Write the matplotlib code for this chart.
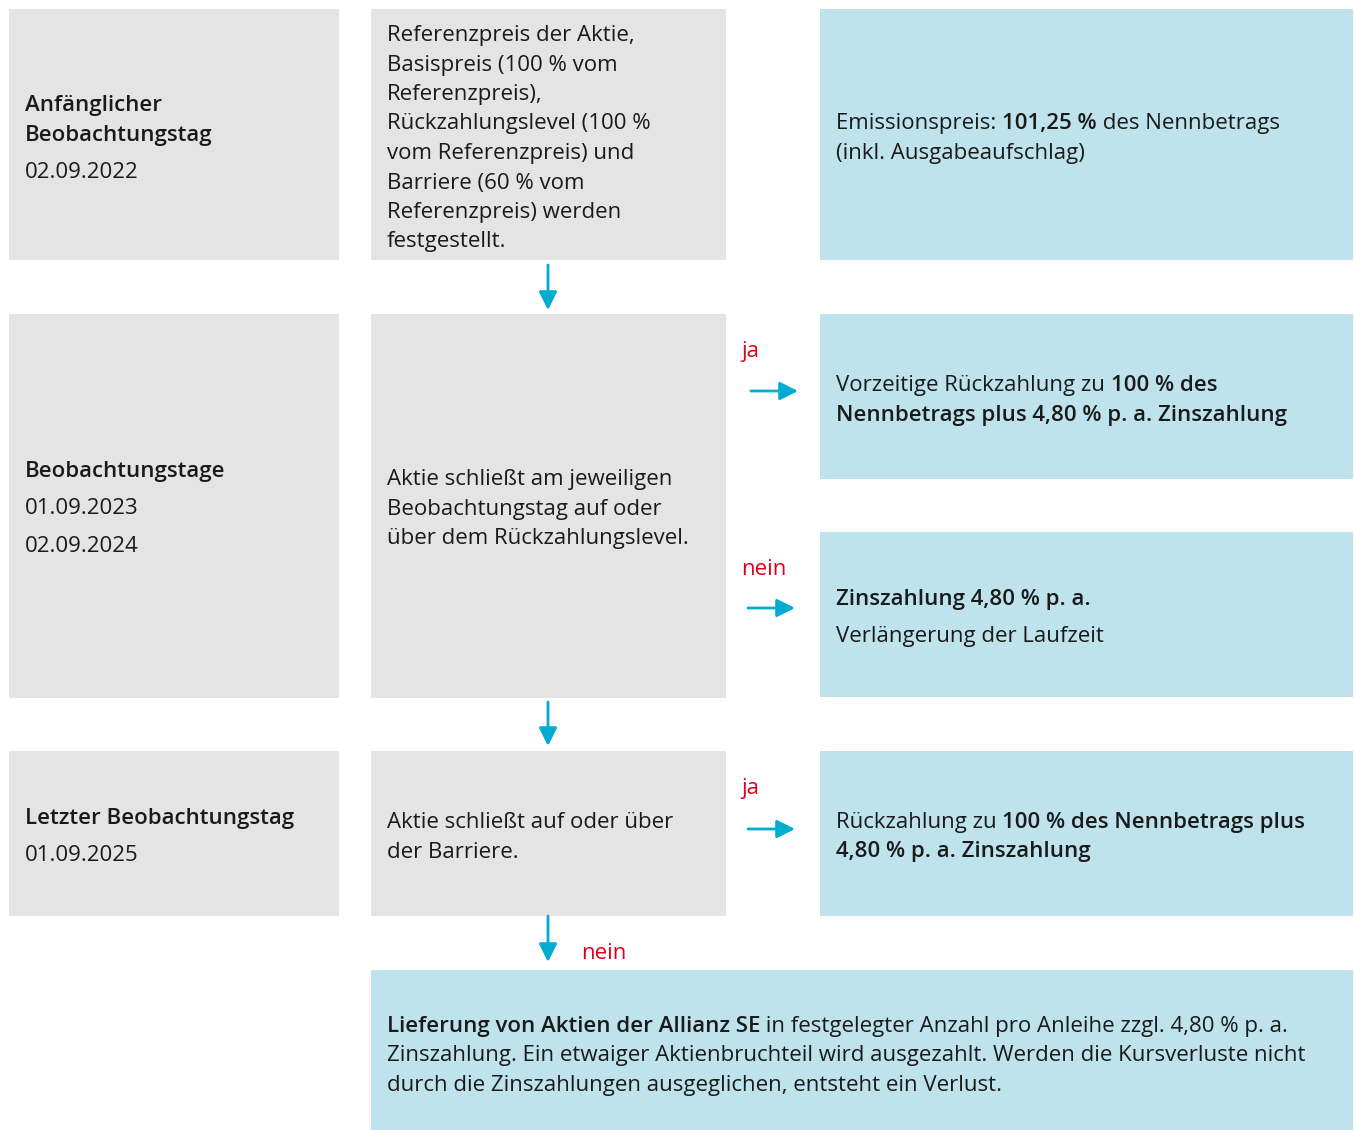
import matplotlib.pyplot as plt
from matplotlib.patches import Rectangle

GRAY = "#e4e4e4"
BLUE = "#bee3ec"
ARROW = "#00acd0"
RED = "#e2001a"
FONT = "Open Sans"
FS = 16

# texts (runs: (text, bold))
stage_labels = [
    [[("Anfänglicher", True)], [("Beobachtungstag", True)], None, [("02.09.2022", False)]],
    [[("Beobachtungstage", True)], None, [("01.09.2023", False)], None, [("02.09.2024", False)]],
    [[("Letzter Beobachtungstag", True)], None, [("01.09.2025", False)]],
]
conditions = [
    ["Referenzpreis der Aktie,", "Basispreis (100 % vom", "Referenzpreis),",
     "Rückzahlungslevel (100 %", "vom Referenzpreis) und", "Barriere (60 % vom",
     "Referenzpreis) werden", "festgestellt."],
    ["Aktie schließt am jeweiligen", "Beobachtungstag auf oder", "über dem Rückzahlungslevel."],
    ["Aktie schließt auf oder über", "der Barriere."],
]
outcomes = [
    [[("Emissionspreis: ", False), ("101,25 %", True), (" des Nennbetrags", False)],
     [("(inkl. Ausgabeaufschlag)", False)]],
    [[("Vorzeitige Rückzahlung zu ", False), ("100 % des", True)],
     [("Nennbetrags plus 4,80 % p. a. Zinszahlung", True)]],
    [[("Zinszahlung 4,80 % p. a.", True)], None, [("Verlängerung der Laufzeit", False)]],
    [[("Rückzahlung zu ", False), ("100 % des Nennbetrags plus", True)],
     [("4,80 % p. a. Zinszahlung", True)]],
]
final_text = [
    [("Lieferung von Aktien der Allianz SE", True),
     (" in festgelegter Anzahl pro Anleihe zzgl. 4,80 % p. a.", False)],
    [("Zinszahlung. Ein etwaiger Aktienbruchteil wird ausgezahlt. Werden die Kursverluste nicht", False)],
    [("durch die Zinszahlungen ausgeglichen, entsteht ein Verlust.", False)],
]
branch_labels = ["ja", "nein", "ja", "nein"]

fig = plt.figure(figsize=(13.54, 11.30), dpi=100)
ax = fig.add_axes([0, 0, 1, 1])
ax.set_xlim(0, 1354)
ax.set_ylim(1130, 0)
ax.axis("off")
renderer = fig.canvas.get_renderer()


def box(x0, y0, x1, y1, color):
    ax.add_patch(Rectangle((x0, y0), x1 - x0, y1 - y0, facecolor=color, edgecolor="none"))


def runs_line(x, y, runs):
    for txt, bold in runs:
        t = ax.text(x, y, txt, fontsize=FS, family=FONT, va="baseline", ha="left",
                    fontweight="semibold" if bold else "normal", color="#1a1a1a")
        bb = t.get_window_extent(renderer)
        x += bb.width


def block(x, y_first, lines, step=29.5, half=0.27):
    y = y_first
    for ln in lines:
        if ln is None:
            y += step * half
            continue
        if isinstance(ln, str):
            ln = [(ln, False)]
        runs_line(x, y, ln)
        y += step


def arrow(x0, y0, x1, y1):
    ax.annotate("", xy=(x1, y1), xytext=(x0, y0),
                arrowprops=dict(arrowstyle="-|>,head_length=1.1,head_width=0.55",
                                color=ARROW, lw=2, shrinkA=0, shrinkB=0))


# boxes
box(9, 9, 339, 260, GRAY)
box(371, 9, 726, 260, GRAY)
box(820, 9, 1353, 260, BLUE)
box(9, 314, 339, 698, GRAY)
box(371, 314, 726, 698, GRAY)
box(820, 314, 1353, 479, BLUE)
box(820, 532, 1353, 697, BLUE)
box(9, 751, 339, 916, GRAY)
box(371, 751, 726, 916, GRAY)
box(820, 751, 1353, 916, BLUE)
box(371, 970, 1353, 1130, BLUE)

# texts
block(25, 111, stage_labels[0])
block(25, 477, stage_labels[1])
block(25, 824, stage_labels[2])
block(387, 41, conditions[0])
block(387, 485, conditions[1])
block(387, 828, conditions[2])
block(836, 129, outcomes[0])
block(836, 391, outcomes[1])
block(836, 605, outcomes[2])
block(836, 828, outcomes[3])
block(387, 1032, final_text)

# arrows
arrow(548, 265, 548, 310)
arrow(548, 702, 548, 746)
arrow(548, 916, 548, 962)
arrow(751, 391, 798, 391)
arrow(748, 608, 795, 608)
arrow(748, 829, 795, 829)

for lab, (x, y) in zip(branch_labels, [(741, 357), (741, 575), (741, 794), (581, 959)]):
    ax.text(x, y, lab, fontsize=FS, family=FONT, color=RED, va="baseline", ha="left")

fig.savefig("out.png", dpi=100)
